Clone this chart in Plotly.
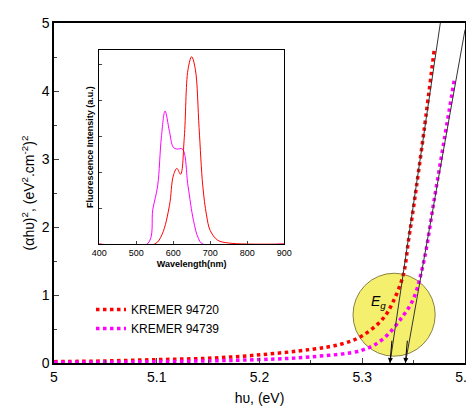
import plotly.graph_objects as go

# main absorption curves
red_x = [5.0, 5.05, 5.1, 5.15, 5.2, 5.25, 5.28, 5.3, 5.32, 5.33, 5.34, 5.345, 5.35, 5.36, 5.37]
red_y = [0.02, 0.03, 0.05, 0.07, 0.12, 0.2, 0.28, 0.4, 0.65, 0.9, 1.3, 1.8, 2.3, 3.4, 4.6]
mag_x = [5.0, 5.1, 5.2, 5.25, 5.3, 5.32, 5.34, 5.35, 5.36, 5.37, 5.38, 5.39]
mag_y = [0.01, 0.02, 0.05, 0.09, 0.19, 0.35, 0.7, 0.95, 1.5, 2.4, 3.3, 4.2]

# tangent lines (Eg extrapolation)
red_fit_x = [5.327, 5.376]
red_fit_y = [0.0, 5.0]
mag_fit_x = [5.342, 5.40]
mag_fit_y = [0.0, 4.9]
eg_values = [5.327, 5.342]

# inset fluorescence spectra
fl_red_x = [400, 550, 570, 590, 600, 610, 620, 630, 640, 650, 660, 670, 680, 690, 700, 720, 750, 900]
fl_red_y = [0.0, 0.0, 0.05, 0.2, 0.35, 0.39, 0.36, 0.55, 0.9, 0.966, 0.9, 0.6, 0.3, 0.15, 0.07, 0.02, 0.005, 0.0]
fl_mag_x = [400, 530, 545, 558, 568, 578, 590, 600, 610, 625, 640, 655, 668, 680, 900]
fl_mag_y = [0.0, 0.0, 0.18, 0.3, 0.55, 0.686, 0.58, 0.5, 0.49, 0.49, 0.3, 0.12, 0.03, 0.0, 0.0]

fig = go.Figure()

fig.add_trace(go.Scatter(x=red_x, y=red_y, mode="lines", name="KREMER 94720",
                         line=dict(color="red", width=3.5, dash="dot", shape="spline")))
fig.add_trace(go.Scatter(x=mag_x, y=mag_y, mode="lines", name="KREMER 94739",
                         line=dict(color="magenta", width=3.5, dash="dot", shape="spline")))

# Eg circle
fig.add_shape(type="circle", xref="x", yref="y", x0=5.291, x1=5.371, y0=0.1, y1=1.32,
              fillcolor="#f5ef6e", line=dict(color="#8a8040", width=1), layer="below")
fig.add_annotation(x=5.316, y=0.9, text="<i>E<sub>g</sub></i>", showarrow=False,
                   font=dict(size=14, color="black"))

fig.add_trace(go.Scatter(x=red_fit_x, y=red_fit_y, mode="lines", showlegend=False,
                         line=dict(color="#333", width=1)))
fig.add_trace(go.Scatter(x=mag_fit_x, y=mag_fit_y, mode="lines", showlegend=False,
                         line=dict(color="#333", width=1)))
for eg in eg_values:
    fig.add_annotation(x=eg, y=0.0, ax=eg + 0.002, ay=0.35, xref="x", yref="y",
                       axref="x", ayref="y", showarrow=True, arrowhead=2,
                       arrowsize=1, arrowwidth=1, arrowcolor="black", text="")

# inset
fig.add_trace(go.Scatter(x=fl_mag_x, y=fl_mag_y, xaxis="x2", yaxis="y2", mode="lines",
                         showlegend=False, line=dict(color="magenta", width=1, shape="spline")))
fig.add_trace(go.Scatter(x=fl_red_x, y=fl_red_y, xaxis="x2", yaxis="y2", mode="lines",
                         showlegend=False, line=dict(color="red", width=1, shape="spline")))

fig.update_layout(
    width=474, height=417,
    margin=dict(l=46, r=16, t=7, b=62),
    paper_bgcolor="white", plot_bgcolor="white",
    font=dict(family="Arial, Liberation Sans", color="black"),
    xaxis=dict(range=[5.0, 5.4], tickvals=[5.0, 5.1, 5.2, 5.3, 5.4],
               ticktext=["5", "5.1", "5.2", "5.3", "5.4"], ticks="inside", ticklen=5,
               minor=dict(ticks="inside", ticklen=3, dtick=0.05),
               showline=True, mirror=True, linecolor="black", linewidth=1.5,
               showgrid=False, zeroline=False, tickfont=dict(size=14),
               title=dict(text="hυ, (eV)", font=dict(size=14), standoff=10)),
    yaxis=dict(range=[0, 5], dtick=1, ticks="inside", ticklen=5,
               minor=dict(ticks="inside", ticklen=3, dtick=0.5),
               showline=True, mirror=True, linecolor="black", linewidth=1.5,
               showgrid=False, zeroline=False, tickfont=dict(size=14),
               title=dict(text="(αhυ)<sup>2</sup>, (eV<sup>2</sup>.cm<sup>-2</sup>)<sup>2</sup>",
                          font=dict(size=14), standoff=4)),
    xaxis2=dict(domain=[0.11, 0.56], anchor="y2", range=[400, 900], dtick=100,
                ticks="inside", ticklen=3, showline=True, mirror=True, linecolor="black",
                showgrid=False, zeroline=False, tickfont=dict(size=9),
                title=dict(text="<b>Wavelength(nm)</b>", font=dict(size=9), standoff=3)),
    yaxis2=dict(domain=[0.35, 0.92], anchor="x2", range=[0, 1.0], showticklabels=False,
                ticks="inside", ticklen=3, dtick=0.185, showline=True, mirror=True,
                linecolor="black", showgrid=False, zeroline=False,
                title=dict(text="<b>Fluorescence Intensity (a.u.)</b>", font=dict(size=9),
                           standoff=3)),
    legend=dict(x=0.09, y=0.2, xanchor="left", yanchor="top", bgcolor="rgba(0,0,0,0)",
                font=dict(size=12)),
)

fig.write_html("out.html")
